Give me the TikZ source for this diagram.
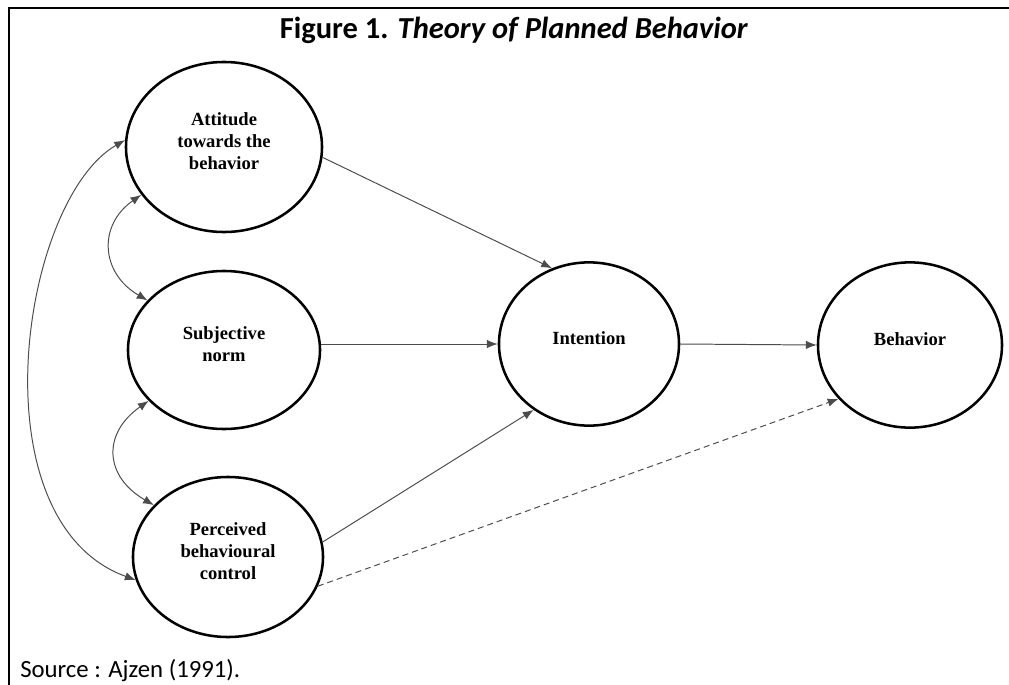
\documentclass[tikz,border=0pt]{standalone}
\usepackage{fontspec}
\setmainfont{Liberation Serif}
\newfontfamily\calibri{Carlito}
\usetikzlibrary{shapes.geometric,arrows.meta}

\begin{document}
\begin{tikzpicture}[x=0.025cm,y=-0.025cm,
    construct/.style={draw,ellipse,line width=1.8pt,inner sep=0pt,align=center,font=\fontsize{13.2}{15.5}\selectfont\bfseries,execute at end node={\rule[-0.3cm]{0pt}{0pt}}},
    effect/.style={draw=black!70,line width=0.7pt,-{Latex[length=2.7mm,width=2.1mm]}},
    covar/.style={draw=black!70,line width=0.7pt,{Latex[length=2.7mm,width=2.1mm]}-{Latex[length=2.7mm,width=2.1mm]}}]
    \useasboundingbox (0,0) rectangle (1009,685);
    \draw[line width=1.8pt] (9,685) -- (9,8) -- (1009,8);
    \node[anchor=base,font=\calibri\fontsize{21.7}{26}\selectfont\bfseries] (title) at (514,38) {Figure 1. \textit{Theory of Planned Behavior}};
    \node[anchor=base west,font=\calibri\fontsize{17.6}{21}\selectfont,inner sep=0pt] (source) at (20,677) {Source : Ajzen (1991).};

    \node[construct,minimum width=4.9cm,minimum height=4.25cm] (att) at (224,147) {Attitude\\towards the\\behavior};
    \node[construct,minimum width=4.8cm,minimum height=3.95cm] (subj) at (224,350) {Subjective\\norm};
    \node[construct,minimum width=4.75cm,minimum height=4cm] (perc) at (228,557) {Perceived\\behavioural\\control};
    \node[construct,minimum width=4.5cm,minimum height=4.08cm] (int) at (589,344) {Intention};
    \node[construct,minimum width=4.6cm,minimum height=4.13cm] (beh) at (910,345) {Behavior};

    \draw[effect] (att.354) -- (int.116);
    \draw[effect] (int.west -| subj.east) -- (int.west);
    \draw[effect] (perc.9) -- (int.230);
    \draw[effect] (int.east) -- (beh.west);
    \draw[effect,dash pattern=on 1.5mm off 1mm] (perc.342) -- (beh.217);

    \draw[covar] (att.210) to[out=215,in=150,looseness=1.3] (subj.147);
    \draw[covar] (subj.214) to[out=215,in=150,looseness=1.4] (perc.145);
    \draw[covar] (att.176) to[out=210,in=160,out looseness=0.7,in looseness=1] (perc.194);
\end{tikzpicture}
\end{document}
